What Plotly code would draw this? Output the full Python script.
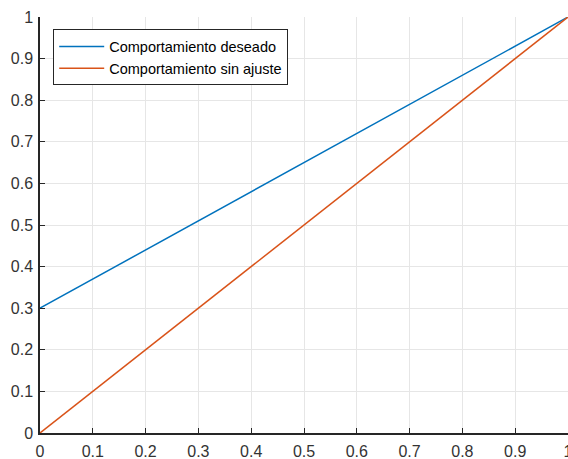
import plotly.graph_objects as go

x_vals = [0.0, 1.0]
deseado = [0.3, 1.0]
sin_ajuste = [0.0, 1.0]
names = ["Comportamiento deseado", "Comportamiento sin ajuste"]
tick_vals = [0, 0.1, 0.2, 0.3, 0.4, 0.5, 0.6, 0.7, 0.8, 0.9, 1]
tick_text = ["0", "0.1", "0.2", "0.3", "0.4", "0.5", "0.6", "0.7", "0.8", "0.9", "1"]

fig = go.Figure()
fig.add_trace(go.Scatter(x=x_vals, y=deseado, mode="lines", name=names[0],
                         line=dict(color="#0072BD", width=1.5)))
fig.add_trace(go.Scatter(x=x_vals, y=sin_ajuste, mode="lines", name=names[1],
                         line=dict(color="#D95319", width=1.5)))

font = "Liberation Sans, Arial, Helvetica, sans-serif"
axis_common = dict(
    range=[0, 1], tickvals=tick_vals, ticktext=tick_text,
    showgrid=True, gridcolor="#e6e6e6", gridwidth=1,
    showline=True, linecolor="#262626", linewidth=1.5,
    ticks="inside", ticklen=5, tickcolor="#262626", tickwidth=1,
    zeroline=False, mirror=False, automargin=False,
    tickfont=dict(family=font, size=16, color="#333333"),
    ticklabeloverflow="allow",
)
fig.update_xaxes(**axis_common, ticklabelstandoff=3)
fig.update_yaxes(**axis_common, ticklabelstandoff=2)

fig.update_layout(
    width=568, height=459,
    margin=dict(l=40, r=0, t=17, b=26),
    plot_bgcolor="white", paper_bgcolor="white",
    font=dict(family=font, size=13, color="#262626"),
    legend=dict(x=0.025, y=0.97, xanchor="left", yanchor="top",
                bgcolor="white", bordercolor="#262626", borderwidth=1,
                font=dict(family=font, size=14.5, color="#000000"),
                tracegroupgap=0, itemwidth=45),
    showlegend=True,
)
fig.write_html("out.html")
